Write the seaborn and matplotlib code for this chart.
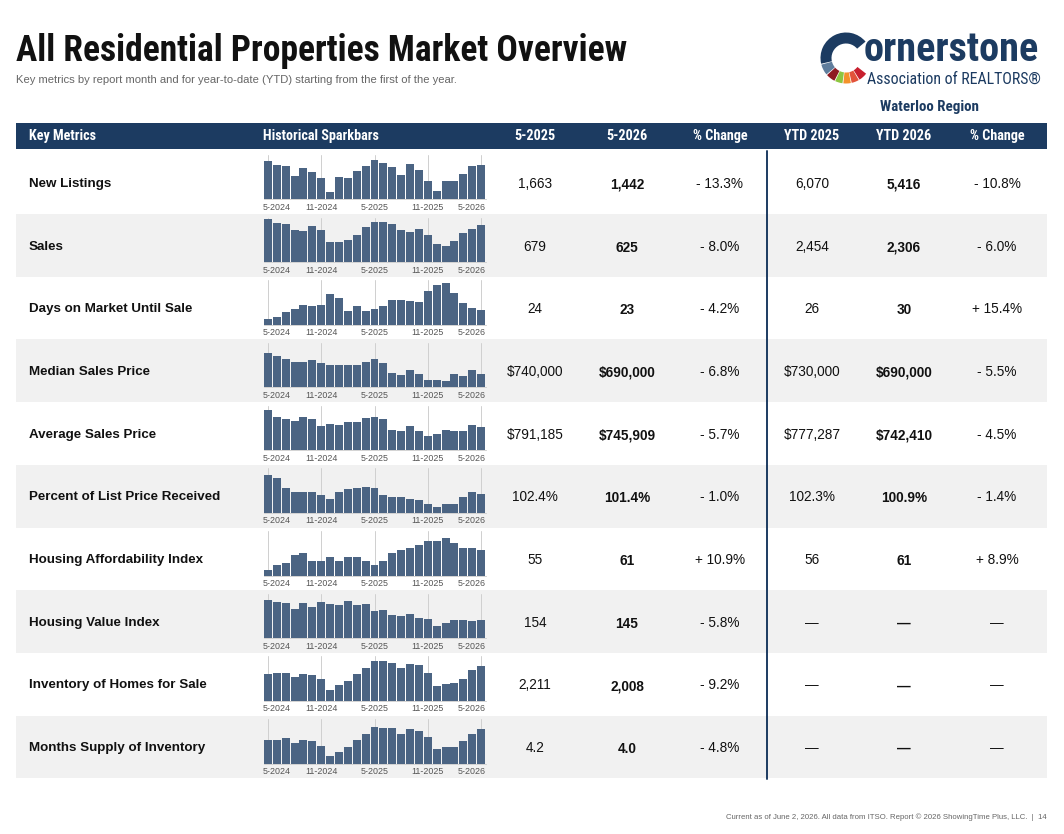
import matplotlib
matplotlib.use("Agg")
import matplotlib.pyplot as plt
import seaborn as sns
import pandas as pd
from matplotlib import font_manager as fm
from matplotlib.patches import Rectangle, Wedge
from matplotlib.transforms import blended_transform_factory

# ---------------- data ----------------
months = ["5-2024", "6-2024", "7-2024", "8-2024", "9-2024", "10-2024", "11-2024",
          "12-2024", "1-2025", "2-2025", "3-2025", "4-2025", "5-2025", "6-2025",
          "7-2025", "8-2025", "9-2025", "10-2025", "11-2025", "12-2025", "1-2026",
          "2-2026", "3-2026", "4-2026", "5-2026"]
tick_months = ["5-2024", "11-2024", "5-2025", "11-2025", "5-2026"]

metrics = ["New Listings", "Sales", "Days on Market Until Sale", "Median Sales Price",
           "Average Sales Price", "Percent of List Price Received",
           "Housing Affordability Index", "Housing Value Index",
           "Inventory of Homes for Sale", "Months Supply of Inventory"]

new_listings = [1610, 1445, 1400, 980, 1315, 1150, 895, 310, 940, 895, 1190, 1400, 1663,
                1525, 1360, 1020, 1485, 1230, 770, 350, 770, 770, 1065, 1400, 1442]
sales = [739, 660, 643, 541, 525, 609, 541, 338, 338, 372, 457, 603, 679, 677, 643, 541,
         508, 558, 457, 305, 271, 355, 491, 558, 625]
days_on_market = [9, 12, 19, 24, 30, 29, 30, 47, 41, 22, 29, 22, 24, 29, 38, 38, 36, 35,
                  52, 62, 64, 49, 33, 26, 23]
median_price = [760000, 750000, 740000, 730000, 730000, 737000, 727000, 720000, 720000,
                720000, 720000, 730000, 740000, 727000, 693000, 687000, 703000, 690000,
                670000, 670000, 667000, 690000, 683000, 703000, 690000]
average_price = [823000, 791000, 782000, 773000, 791000, 782000, 750000, 759000, 755000,
                 769000, 769000, 787000, 791185, 782000, 732000, 728000, 750000, 728000,
                 705000, 714000, 732000, 728000, 728000, 755000, 745909]
pct_list_price = [104.6, 104.1, 102.4, 101.7, 101.7, 101.7, 101.2, 100.6, 101.7, 102.2,
                  102.4, 102.6, 102.4, 101.2, 100.9, 100.9, 100.6, 100.4, 99.7, 99.2,
                  99.7, 99.6, 100.9, 101.7, 101.4]
affordability = [53, 55, 55.8, 59, 59.8, 56.6, 56.6, 58.2, 56.6, 58.2, 58.2, 56.6, 55,
                 56.6, 59.8, 61, 61.8, 63, 64.6, 64.6, 65.8, 63.8, 61.8, 61.8, 61]
value_index = [163.9, 162.1, 161.2, 155.8, 161.2, 157.6, 162.1, 160.3, 159.4, 163.0,
               159.4, 160.3, 154, 154.9, 149.5, 148.6, 150.4, 146.8, 145.9, 139.6, 142.3,
               145, 145, 144.1, 145]
inventory = [1686, 1727, 1727, 1564, 1686, 1645, 1483, 1036, 1239, 1402, 1686, 1930, 2211,
             2214, 2132, 1930, 2092, 2051, 1727, 1199, 1280, 1321, 1483, 1848, 2008]
months_supply = [3.3, 3.3, 3.4, 3.1, 3.3, 3.2, 2.9, 2.2, 2.5, 2.8, 3.3, 3.7, 4.2, 4.1,
                 4.1, 3.7, 4.0, 3.9, 3.5, 2.7, 2.8, 2.8, 3.2, 3.7, 4.0]

col_5_2025 = ["1,663", "679", "24", "$740,000", "$791,185", "102.4%", "55", "154",
              "2,211", "4.2"]
col_5_2026 = ["1,442", "625", "23", "$690,000", "$745,909", "101.4%", "61", "145",
              "2,008", "4.0"]
col_pct_month = ["- 13.3%", "- 8.0%", "- 4.2%", "- 6.8%", "- 5.7%", "- 1.0%", "+ 10.9%",
                 "- 5.8%", "- 9.2%", "- 4.8%"]
col_ytd_2025 = ["6,070", "2,454", "26", "$730,000", "$777,287", "102.3%", "56", "—",
                "—", "—"]
col_ytd_2026 = ["5,416", "2,306", "30", "$690,000", "$742,410", "100.9%", "61", "—",
                "—", "—"]
col_pct_ytd = ["- 10.8%", "- 6.0%", "+ 15.4%", "- 5.5%", "- 4.5%", "- 1.4%", "+ 8.9%",
               "—", "—", "—"]

headers = ["Key Metrics", "Historical Sparkbars", "5-2025", "5-2026", "% Change",
           "YTD 2025", "YTD 2026", "% Change"]

series = [new_listings, sales, days_on_market, median_price, average_price,
          pct_list_price, affordability, value_index, inventory, months_supply]

# ---------------- style ----------------
sns.set_theme(style="white")


def has_font(name):
    try:
        fm.findfont(fm.FontProperties(family=name), fallback_to_default=False)
        return True
    except Exception:
        return False


BODY = "Liberation Sans" if has_font("Liberation Sans") else "DejaVu Sans"
COND = next((f for f in ["Liberation Sans Narrow", "Roboto Condensed", "DejaVu Sans Condensed"]
             if has_font(f)), BODY)
plt.rcParams["font.family"] = [BODY, "DejaVu Sans"]

NAVY = "#1c3b61"
BAR = "#4b6483"
GRAY_ROW = "#f1f1f1"

# axis ranges for the sparkbars (bottom, top)
spark_lims = [(0, 1890), (0, 761), (0, 69), (644000, 794000), (640000, 843700),
              (98.2, 105.7), (50.7, 68.7), (128.8, 169.3), (590, 2417), (1.7, 4.7)]

W, H = 1064, 834
fig = plt.figure(figsize=(W / 100, H / 100), dpi=100)
bg = fig.add_axes([0, 0, 1, 1])
bg.set_xlim(0, W)
bg.set_ylim(H, 0)
bg.axis("off")

# title
bg.text(16, 51, "All Residential Properties Market Overview", fontsize=25.6,
        fontweight="bold", family=[COND, "DejaVu Sans"], va="center", ha="left",
        color="#111111")
bg.text(16, 80, "Key metrics by report month and for year-to-date (YTD) starting from the first of the year.",
        fontsize=8.1, color="#666666", va="center", ha="left")

# logo
cx, cy, R, wd = 846, 58, 25.5, 11
segs = [(40, 193, NAVY), (195, 220, "#5f7d9c"), (222, 243, "#8e1b22"),
        (245, 262, "#8dc63f"), (264, 281, "#f4922a"), (283, 300, "#e2523a"),
        (302, 322, "#c8202f")]
for t1, t2, c in segs:
    bg.add_patch(Wedge((cx, cy), R, -t2, -t1, width=wd, color=c, lw=0))
bg.text(864, 50, "ornerstone", fontsize=29, fontweight="bold", family=[COND, "DejaVu Sans"],
        color=NAVY, va="center", ha="left")
bg.text(1041, 79, "Association of REALTORS®", fontsize=11.4, color=NAVY, va="center",
        ha="right", family=[COND, "DejaVu Sans"])
bg.text(929, 107, "Waterloo Region", fontsize=10.8, fontweight="bold", color=NAVY,
        va="center", ha="center", family=[COND, "DejaVu Sans"])

# header
bg.add_patch(Rectangle((16, 123.3), 1031, 25.5, color=NAVY, lw=0))
hx = [29, 263, 535, 627, 720, 812, 904, 997]
for i, (x, h) in enumerate(zip(hx, headers)):
    bg.text(x, 136, h, color="white", fontsize=10.2, fontweight="bold",
            family=[COND, "DejaVu Sans"], va="center", ha="left" if i < 2 else "center")

# rows
ROW0, RH = 151.3, 62.7
for i in range(len(metrics)):
    top = ROW0 + i * RH
    if i % 2 == 1:
        bg.add_patch(Rectangle((16, top), 1031, RH, color=GRAY_ROW, lw=0, zorder=0))
    yc = top + 32.5
    bg.text(29, yc, metrics[i], fontsize=9.6, fontweight="bold", color="#111111",
            va="center", ha="left")
    cols = [col_5_2025, col_5_2026, col_pct_month, col_ytd_2025, col_ytd_2026, col_pct_ytd]
    bold = [False, True, False, False, True, False]
    for x, col, b in zip(hx[2:], cols, bold):
        bg.text(x, yc + (1 if b else 0), col[i], fontsize=9.8,
                fontweight="bold" if b else "normal", color="#111111",
                va="center", ha="center")

    # sparkbar axes
    ax = fig.add_axes([263.5 / W, 1 - (top + 48) / H, 222 / W, 44.5 / H])
    df = pd.DataFrame({"month": months, "value": series[i]})
    sns.barplot(data=df, x="month", y="value", ax=ax, color=BAR, saturation=1,
                width=0.9, linewidth=0, zorder=2)
    ax.set_xlim(-0.5, len(months) - 0.5)
    ax.set_ylim(*spark_lims[i])
    tpos = [months.index(m) for m in tick_months]
    for p in tpos:
        ax.axvline(p, color="#cfcfcf", lw=0.7, zorder=0)
    ax.set_xticks(tpos)
    ax.set_xticklabels([])
    ax.tick_params(axis="x", length=2.5, width=0.6, color="#bbbbbb", pad=1.5)
    trans = blended_transform_factory(ax.transData, ax.transAxes)
    n = len(tpos)
    for k, (p, m) in enumerate(zip(tpos, tick_months)):
        if k == 0:
            xx, ha = -0.55, "left"
        elif k == n - 1:
            xx, ha = len(months) - 0.45, "right"
        else:
            xx, ha = p, "center"
        ax.text(xx, -0.08, m, transform=trans, fontsize=6.4, color="#555555",
                ha=ha, va="top")
    ax.set_yticks([])
    ax.set_xlabel("")
    ax.set_ylabel("")
    ax.set_facecolor("none")
    for s in ["top", "left", "right"]:
        ax.spines[s].set_visible(False)
    ax.spines["bottom"].set_color("#cccccc")
    ax.spines["bottom"].set_linewidth(0.6)

bg.plot([767, 767], [151, 778.5], color=NAVY, lw=1.4, zorder=3)

# footer
bg.text(1047, 817, "Current as of June 2, 2026. All data from ITSO. Report © 2026 ShowingTime Plus, LLC.  |  14",
        fontsize=5.6, color="#666666", va="center", ha="right")

fig.savefig("out.png", dpi=100)
